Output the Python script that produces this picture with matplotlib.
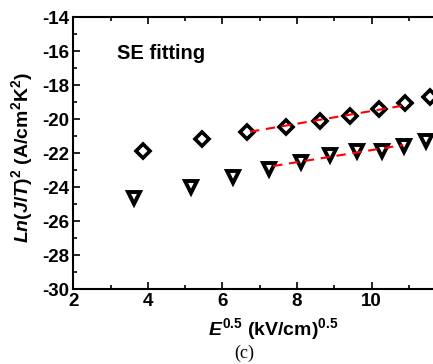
import matplotlib
matplotlib.use("Agg")
import matplotlib.pyplot as plt
import numpy as np
from matplotlib.ticker import MultipleLocator

plt.rcParams['font.family'] = ['Liberation Sans', 'DejaVu Sans']
plt.rcParams['font.weight'] = 'bold'
plt.rcParams['axes.unicode_minus'] = False
plt.rcParams['mathtext.fontset'] = 'custom'
plt.rcParams['mathtext.rm'] = 'Liberation Sans:bold'
plt.rcParams['mathtext.it'] = 'Liberation Sans:bold:italic'
plt.rcParams['mathtext.bf'] = 'Liberation Sans:bold'

# data
diamond_x = [3.88, 5.46, 6.67, 7.70, 8.61, 9.42, 10.19, 10.90, 11.57]
diamond_y = [-21.85, -21.14, -20.73, -20.45, -20.10, -19.81, -19.41, -19.06, -18.69]
tri_x = [3.64, 5.15, 6.29, 7.25, 8.11, 8.88, 9.60, 10.28, 10.87, 11.47]
tri_y = [-24.65, -23.96, -23.38, -22.92, -22.49, -22.12, -21.85, -21.85, -21.57, -21.26]
fit1_x = [6.74, 10.94]
fit1_y = [-20.73, -19.16]
fit2_x = [7.36, 10.85]
fit2_y = [-22.75, -21.51]
xtick_vals = [2, 4, 6, 8, 10, 12]
xtick_labels = ['2', '4', '6', '8', '10', '']

fig = plt.figure(figsize=(4.33, 3.64), dpi=100)
ax = fig.add_axes([0.1693, 0.2052, 0.861, 0.7473])

ax.plot(fit1_x, fit1_y, color='red', ls=(0, (4.5, 3.2)), lw=1.5, zorder=3)
ax.plot(fit2_x, fit2_y, color='red', ls=(0, (4.5, 3.2)), lw=1.5, zorder=3)
ax.plot(diamond_x, diamond_y, ls='none', marker='D', ms=7, mfc='none', mec='black', mew=2.6, zorder=2)
ax.plot(tri_x, tri_y, ls='none', marker='v', ms=8, mfc='none', mec='black', mew=2.8, zorder=2)

ax.set_xlim(2, 12)
ax.set_ylim(-30, -14)
ax.set_xticks(xtick_vals)
ax.set_xticklabels(xtick_labels)
ax.xaxis.set_minor_locator(MultipleLocator(1))
ax.yaxis.set_major_locator(MultipleLocator(2))
ax.yaxis.set_minor_locator(MultipleLocator(1))
ax.tick_params(which='both', direction='in', top=True, right=True, width=1.2)
ax.tick_params(which='major', length=5, labelsize=13.5, pad=3)
ax.tick_params(which='minor', length=3)
for s in ax.spines.values():
    s.set_linewidth(1.5)
for lab in ax.get_xticklabels() + ax.get_yticklabels():
    lab.set_fontweight('bold')

ax.set_xlabel(r'$E^{0.5}$ (kV/cm)$^{0.5}$', fontsize=14, fontweight='bold')
ax.set_ylabel(r'$Ln(J/T)^2$ (A/cm$^2$K$^2$)', fontsize=14, fontweight='bold')
ax.xaxis.set_label_coords(0.536, -0.10)
ax.yaxis.set_label_coords(-0.102, 0.483)

ax.text(0.118, 0.846, 'SE fitting', transform=ax.transAxes, fontsize=14.5, fontweight='bold')

fig.text(0.563, 0.018, '(c)', fontsize=13, family=['Liberation Serif'], fontweight='normal', ha='center')

fig.savefig('out.png', dpi=100)
